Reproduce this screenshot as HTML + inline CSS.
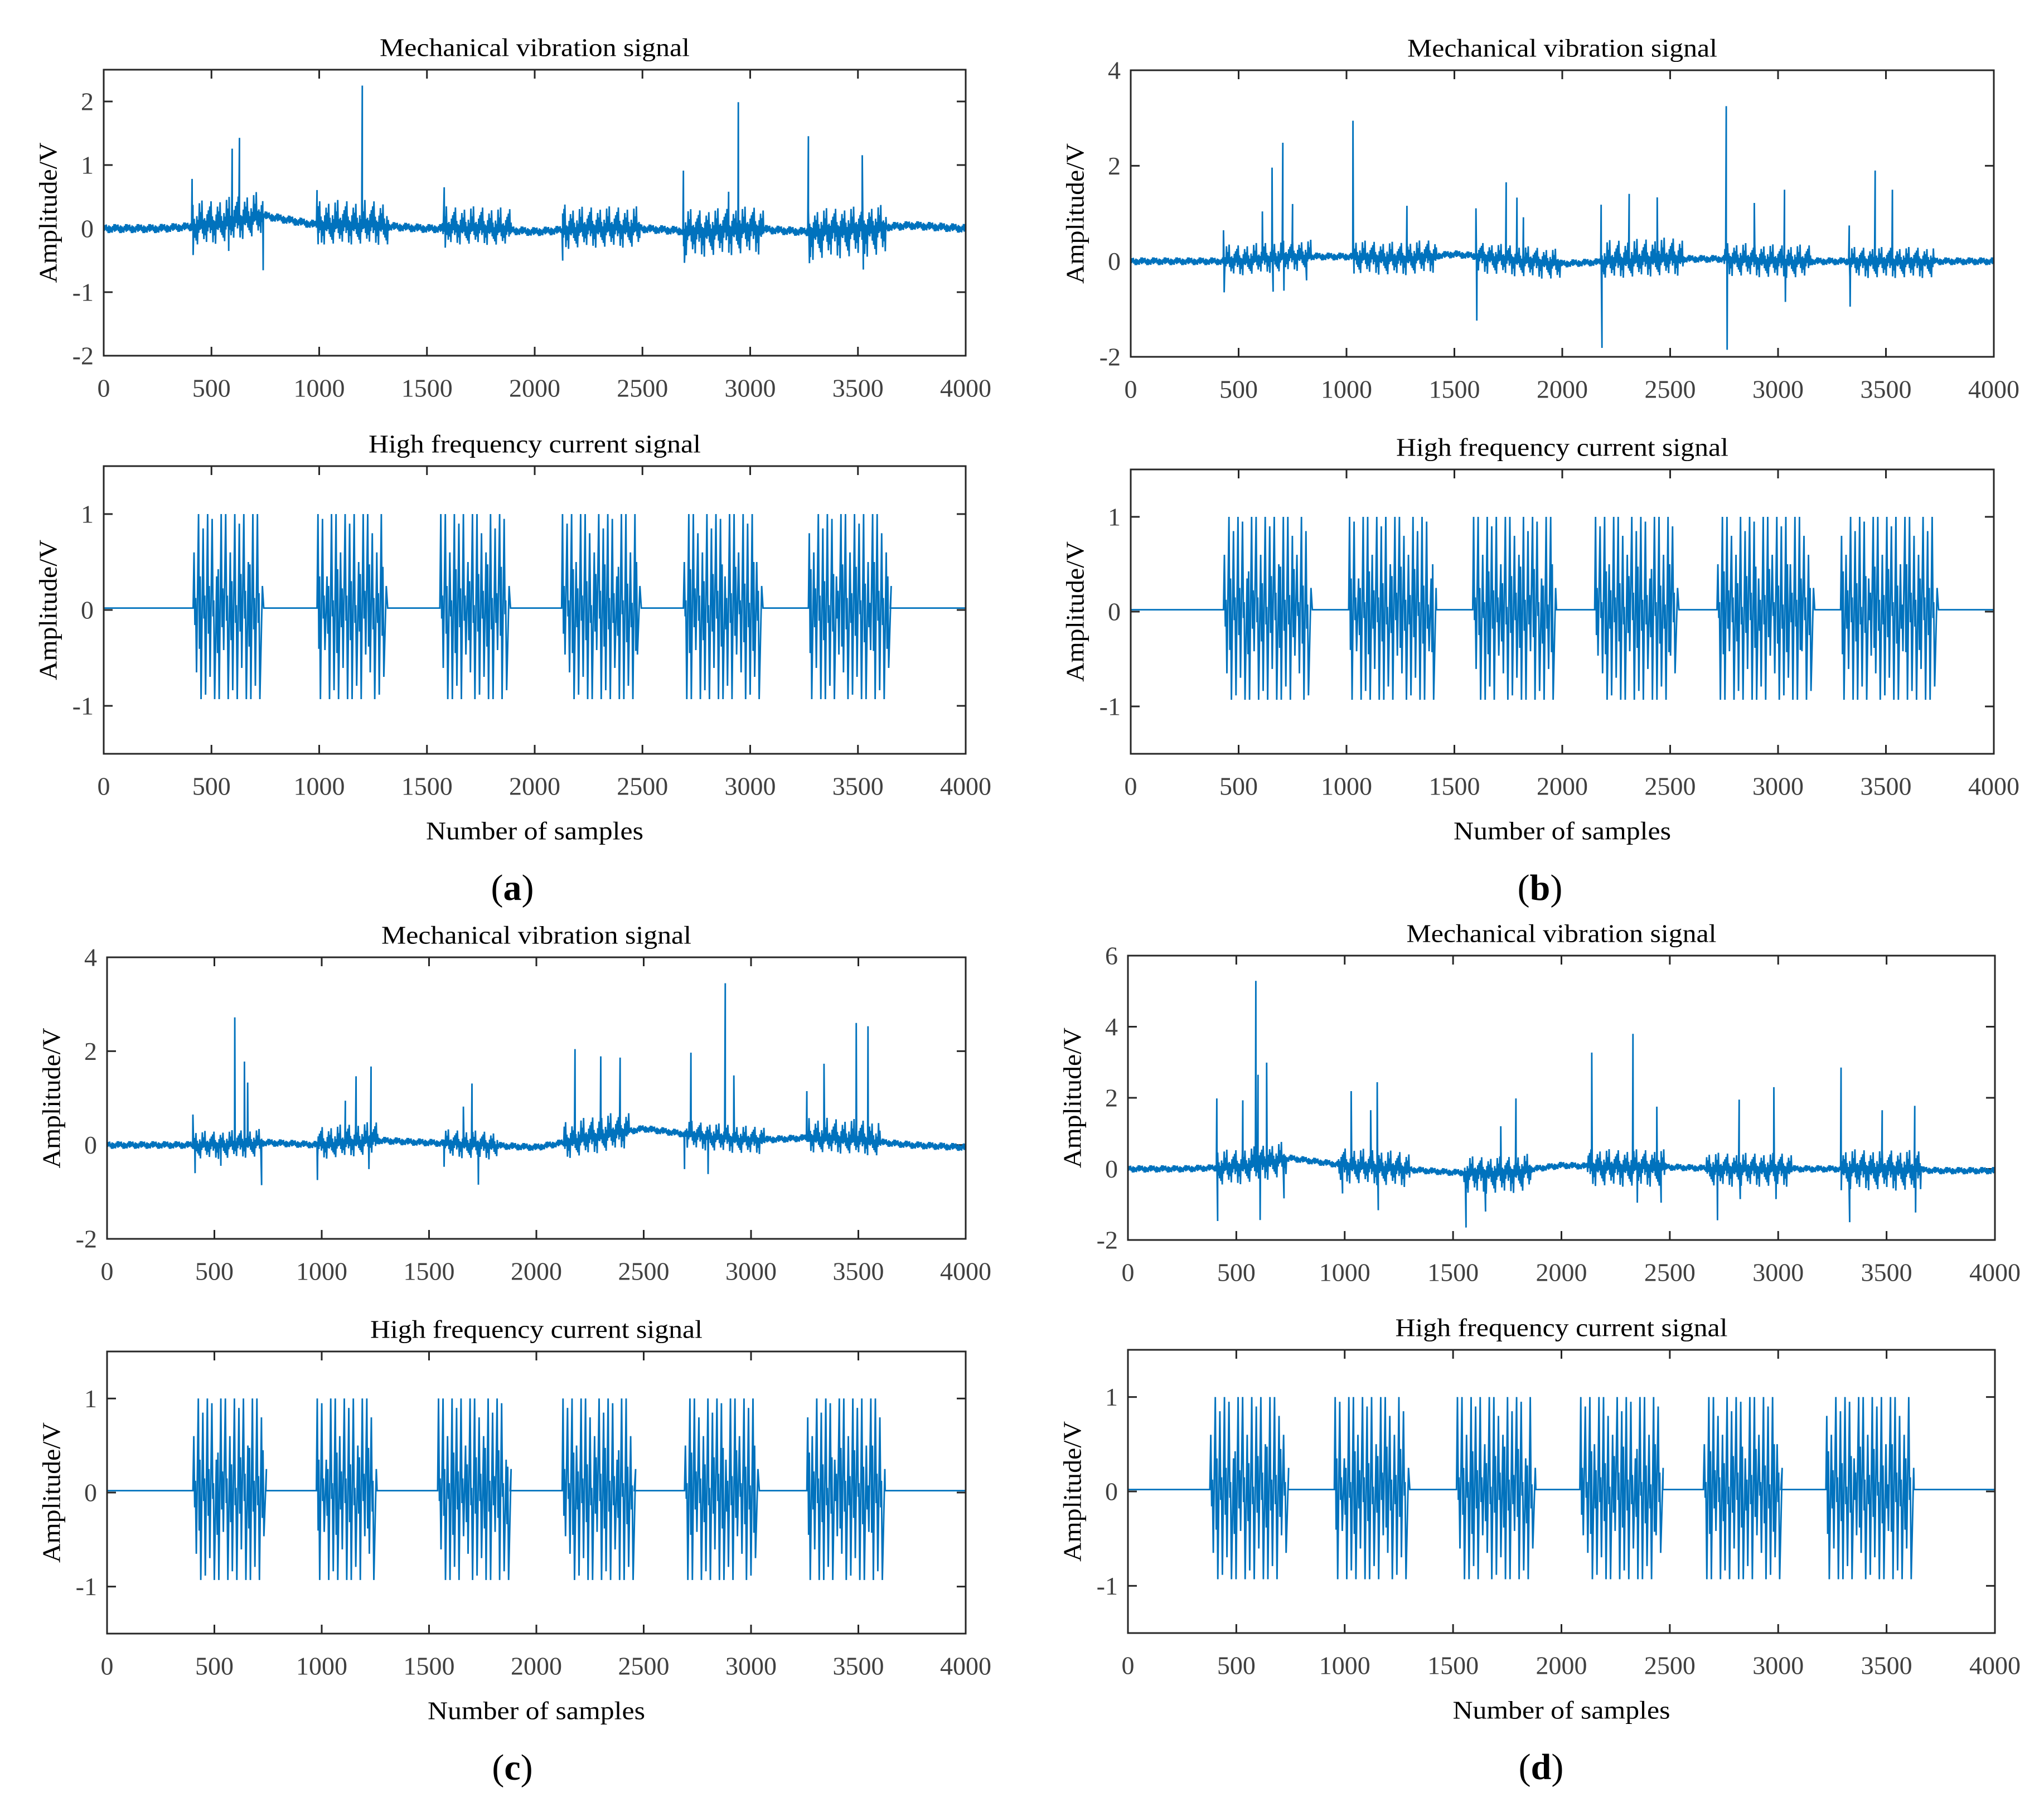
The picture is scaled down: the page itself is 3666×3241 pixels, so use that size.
<!DOCTYPE html>
<html><head><meta charset="utf-8"><style>
html,body{margin:0;padding:0;background:#fff;}
svg{display:block;}
text{font-family:"Liberation Serif",serif;}
</style></head><body>
<svg id="fig" width="3666" height="3241" viewBox="0 0 3666 3241" xmlns="http://www.w3.org/2000/svg"></svg>
<script>
// ---------- shared ----------
const baseSamples = [0,250,500,750,1000,1250,1500,1750,2000,2250,2500,2750,3000,3250,3500,3750,4000];
const xTicks = [0,500,1000,1500,2000,2500,3000,3500,4000];
const curTicks = [-1,0,1];

// ---------- panel a ----------
const aVibBase = [0,0,0.05,0.2,0.05,0.05,0,0,-0.05,0,0,-0.05,0,-0.05,0,0.05,0];
const aBurstStart = [410,990,1570,2130,2690,3270];
const aBurstEnd = [740,1320,1890,2490,3060,3630];
const aBurstHi = [0.4,0.4,0.35,0.35,0.35,0.35];
const aBurstLo = [-0.3,-0.3,-0.25,-0.3,-0.4,-0.45];
const aSpikeX = [410,415,580,596,630,740,990,995,1200,1580,1585,2130,2140,2690,2695,2900,2945,3270,3275,3520,3525];
const aSpikeY = [0.75,-0.45,-0.45,1.15,1.3,-0.85,0.55,-0.3,2.2,0.65,-0.3,-0.48,0.4,0.95,-0.5,0.6,2.0,1.5,-0.5,1.15,-0.65];
const aVibTicks = [-2,-1,0,1,2];
const aCurStart = [415,990,1560,2125,2690,3270];
const aCurEnd = [750,1325,1890,2495,3065,3650];

// ---------- panel b ----------
const bVibBase = [0,0,0,0.1,0.1,0.05,0.15,0.05,-0.05,0,0.05,0.05,0,0,0,0,0];
const bBurstStart = [430,1030,1600,2180,2750,3330];
const bBurstEnd = [835,1420,1990,2560,3150,3720];
const bBurstHi = [0.35,0.35,0.3,0.45,0.35,0.3];
const bBurstLo = [-0.3,-0.35,-0.35,-0.35,-0.35,-0.35];
const bSpikeX = [430,433,610,655,660,705,710,750,815,1030,1035,1280,1600,1604,1740,1790,1820,2180,2184,2310,2440,2760,2764,2890,3030,3034,3330,3334,3450,3530];
const bSpikeY = [0.65,-0.65,1.0,1.9,-0.7,2.4,-0.7,1.1,-0.5,2.85,-0.35,1.1,1.0,-1.35,1.6,1.3,0.9,1.2,-1.8,1.4,1.3,3.2,-1.9,1.2,1.5,-0.85,0.75,-0.95,1.9,1.5];
const bVibTicks = [-2,0,2,4];
const bCurStart = [430,1010,1585,2150,2717,3290];
const bCurEnd = [848,1417,1973,2542,3170,3750];

// ---------- panel c ----------
const cVibBase = [0,0,0,0.05,0,0.1,0.05,0,-0.05,0.15,0.35,0.2,0.1,0.15,0.1,0,-0.05];
const cBurstStart = [400,980,1570,2130,2700,3270];
const cBurstEnd = [720,1260,1820,2430,3060,3600];
const cBurstHi = [0.3,0.4,0.3,0.45,0.3,0.45];
const cBurstLo = [-0.3,-0.3,-0.3,-0.35,-0.3,-0.3];
const cSpikeX = [400,410,530,595,640,655,720,980,1110,1160,1220,1230,1570,1660,1700,1730,2180,2300,2390,2690,2720,2800,2880,2920,3260,3340,3490,3545];
const cSpikeY = [0.65,-0.6,-0.45,2.7,1.75,1.3,-0.9,-0.75,0.9,1.4,-0.6,1.58,-0.5,0.8,1.3,-0.85,1.95,1.7,1.6,-0.75,1.75,-0.8,3.3,1.35,1.0,1.6,2.5,2.45];
const cVibTicks = [-2,0,2,4];
const cCurStart = [400,975,1540,2120,2690,3260];
const cCurEnd = [740,1258,1878,2456,3046,3625];

// ---------- panel d ----------
const dVibBase = [0,0,0.05,0.3,0.1,0,-0.1,-0.1,0.1,0.05,0.05,0,0,0,0,-0.05,-0.05];
const dBurstStart = [410,970,1550,2120,2670,3290];
const dBurstEnd = [730,1300,1860,2480,3060,3660];
const dBurstHi = [0.5,0.5,0.45,0.5,0.45,0.55];
const dBurstLo = [-0.5,-0.5,-0.6,-0.55,-0.5,-0.6];
const dSpikeX = [410,414,530,590,600,610,640,720,990,1030,1120,1150,1155,1560,1650,1720,1790,2140,2330,2350,2440,2460,2720,2820,2825,2980,2990,3290,3330,3480,3630,3634];
const dSpikeY = [1.95,-1.5,1.85,5.15,2.5,-1.6,2.8,-1.1,-0.8,2.1,1.6,2.4,-1.2,-1.55,-1.1,1.3,2.05,3.2,3.75,-1.0,1.7,-1.0,-1.45,1.95,-0.85,2.3,-0.85,2.85,-1.5,1.65,1.8,-1.2];
const dVibTicks = [-2,0,2,4,6];
const dCurStart = [378,952,1516,2085,2655,3220];
const dCurEnd = [739,1303,1882,2468,3012,3627];

// ---------- rendering ----------
const NS = 'http://www.w3.org/2000/svg';
const svg = document.getElementById('fig');
const BLUE = '#0072BD';
const pat = [0.35,0.9,0.2,0.55,0.15,1,0.4,0.25,0.7,0.3,0.5,0.2,0.85,0.45,0.3,0.6,0.1,0.75,0.4,0.95,0.25];
const npat = [1,0.5,0.8,0.3,0.9,0.6,0.4,1,0.7];
const pu = [0.6,1,0.85,1,0.95,0.35,1,1,0.6,1,0.9,1,0.5,1,1,0.8];
const pd = [0.7,1,0.95,0.75,1,1,0.45,1,0.9,1,0.65,1,1,0.85,1,0.5];

function el(tag, attrs, parent){
  const e = document.createElementNS(NS, tag);
  for (const k in attrs) e.setAttribute(k, attrs[k]);
  (parent||svg).appendChild(e);
  return e;
}
function txt(str, attrs, parent, name){
  const t = el('text', attrs, parent);
  t.textContent = str;
  
  
  return t;
}
function interp(xs, ys, x){
  for (let i=0;i<xs.length-1;i++){
    if (x>=xs[i] && x<=xs[i+1]) return ys[i]+(ys[i+1]-ys[i])*(x-xs[i])/(xs[i+1]-xs[i]);
  }
  return ys[ys.length-1];
}

function axes(g, L, R, T, B, ymin, ymax, yticks, title, titleLen, showXLabel){
  const sx = v => L + (v/4000)*(R-L);
  const sy = v => B - (v-ymin)/(ymax-ymin)*(B-T);
  xTicks.forEach(v=>{
    const x = sx(v);
    const t1 = el('line',{x1:x,y1:B,x2:x,y2:B-16,stroke:'#262626','stroke-width':3},g);
    
    
    const t2 = el('line',{x1:x,y1:T,x2:x,y2:T+16,stroke:'#262626','stroke-width':3},g);
    
    
    txt(String(v),{x:x,y:B+58,'font-size':46,fill:'#404040','text-anchor':'middle','dominant-baseline':'central'},g,'x-tick-label');
  });
  yticks.forEach(v=>{
    const y = sy(v);
    const t1 = el('line',{x1:L,y1:y,x2:L+16,y2:y,stroke:'#262626','stroke-width':3},g);
    
    
    const t2 = el('line',{x1:R,y1:y,x2:R-16,y2:y,stroke:'#262626','stroke-width':3},g);
    
    
    txt(String(v),{x:L-18,y:y,'font-size':46,fill:'#404040','text-anchor':'end','dominant-baseline':'central'},g,'y-tick-label');
  });
  txt(title,{x:(L+R)/2,y:T-40,'font-size':46,fill:'#000','text-anchor':'middle','dominant-baseline':'central',textLength:titleLen,lengthAdjust:'spacingAndGlyphs'},g,'plot-title');
  txt('Amplitude/V',{x:0,y:0,'font-size':46,fill:'#000','text-anchor':'middle','dominant-baseline':'central',textLength:252,lengthAdjust:'spacingAndGlyphs',transform:`translate(${L-100},${(T+B)/2}) rotate(-90)`},g,'y-axis-title');
  if (showXLabel){
    txt('Number of samples',{x:(L+R)/2,y:B+138,'font-size':46,fill:'#000','text-anchor':'middle','dominant-baseline':'central',textLength:390,lengthAdjust:'spacingAndGlyphs'},g,'x-axis-title');
  }
  return {sx, sy};
}

function frame(g, L, R, T, B){
  const r = el('rect',{x:L,y:T,width:R-L,height:B-T,fill:'none',stroke:'#262626','stroke-width':3},g);
  
  
}

function vibPlot(L,R,T,B,ymin,ymax,yticks,base,bs,be,bh,bl,spx,spy,noise){
  const g = el('g',{});
  
  
  const {sx, sy} = axes(g,L,R,T,B,ymin,ymax,yticks,'Mechanical vibration signal',556,false);
  const order = spx.map((x,i)=>i).sort((a,b)=>spx[a]-spx[b]);
  let si = 0, pts = [], prev = -1;
  for (let s=0, k=0; s<=4000; s+=3, k++){
    while (si<order.length && spx[order[si]]<=s && spx[order[si]]>prev){
      const j = order[si];
      pts.push([sx(spx[j]), sy(interp(baseSamples,base,spx[j])+spy[j])]);
      si++;
    }
    const b0 = interp(baseSamples, base, s);
    let v = b0;
    let inB = -1;
    for (let i=0;i<bs.length;i++) if (s>=bs[i] && s<=be[i]) inB = i;
    if (inB>=0){
      const p = pat[k%pat.length];
      v = b0 + (k%2===0 ? bh[inB]*p : bl[inB]*p);
    } else {
      const p = npat[k%npat.length];
      v = b0 + (k%2===0 ? noise*p : -noise*p);
    }
    pts.push([sx(s), sy(v)]);
    prev = s;
  }
  const path = el('path',{d:'M'+pts.map(p=>p[0].toFixed(1)+','+p[1].toFixed(1)).join('L'),fill:'none',stroke:BLUE,'stroke-width':2.8,'stroke-linejoin':'miter'},g);
  
  
  frame(g,L,R,T,B);
}

function curPlot(L,R,T,B,cs,ce,label,labelX){
  const g = el('g',{});
  
  
  const {sx, sy} = axes(g,L,R,T,B,-1.5,1.5,curTicks,'High frequency current signal',596,true);
  const P = 21;
  let pts = [[sx(0), sy(0.02)]];
  for (let i=0;i<cs.length;i++){
    pts.push([sx(cs[i]), sy(0.02)]);
    let c = 0, t = cs[i];
    for (; t+P<=ce[i]; t+=P, c++){
      const up = pu[(c+i*3)%pu.length];
      const dn = pd[(c+i*5)%pd.length];
      const a1 = pat[(c+i)%pat.length];
      const a2 = pat[(c+i+7)%pat.length];
      pts.push([sx(t+P*0.2), sy(1.0*up)]);
      pts.push([sx(t+P*0.4), sy(-0.45*a1)]);
      pts.push([sx(t+P*0.55), sy(0.5*a2)]);
      pts.push([sx(t+P*0.75), sy(-0.93*dn)]);
    }
    pts.push([sx(t+P*0.3), sy(0.25)]);
    pts.push([sx(Math.min(ce[i], t+P*0.6)), sy(0.02)]);
  }
  pts.push([sx(4000), sy(0.02)]);
  const path = el('path',{d:'M'+pts.map(p=>p[0].toFixed(1)+','+p[1].toFixed(1)).join('L'),fill:'none',stroke:BLUE,'stroke-width':2.8},g);
  
  
  frame(g,L,R,T,B);
  const t = el('text',{x:labelX,y:B+240,'font-size':66,fill:'#000','text-anchor':'middle','dominant-baseline':'central'});
  
  
  const o = el('tspan',{},t); o.textContent='(';
  const m = el('tspan',{'font-weight':'bold'},t); m.textContent=label;
  const c2 = el('tspan',{},t); c2.textContent=')';
}

vibPlot(186,1732,125,638,-2,2.5,aVibTicks,aVibBase,aBurstStart,aBurstEnd,aBurstHi,aBurstLo,aSpikeX,aSpikeY,0.07);
curPlot(186,1732,836,1352,aCurStart,aCurEnd,'a',919);
vibPlot(2028,3576,126,640,-2,4,bVibTicks,bVibBase,bBurstStart,bBurstEnd,bBurstHi,bBurstLo,bSpikeX,bSpikeY,0.08);
curPlot(2028,3576,842,1352,bCurStart,bCurEnd,'b',2762);
vibPlot(192,1732,1717,2222,-2,4,cVibTicks,cVibBase,cBurstStart,cBurstEnd,cBurstHi,cBurstLo,cSpikeX,cSpikeY,0.08);
curPlot(192,1732,2424,2930,cCurStart,cCurEnd,'c',919);
vibPlot(2023,3578,1714,2224,-2,6,dVibTicks,dVibBase,dBurstStart,dBurstEnd,dBurstHi,dBurstLo,dSpikeX,dSpikeY,0.1);
curPlot(2023,3578,2421,2929,dCurStart,dCurEnd,'d',2764);
</script>
</body></html>
